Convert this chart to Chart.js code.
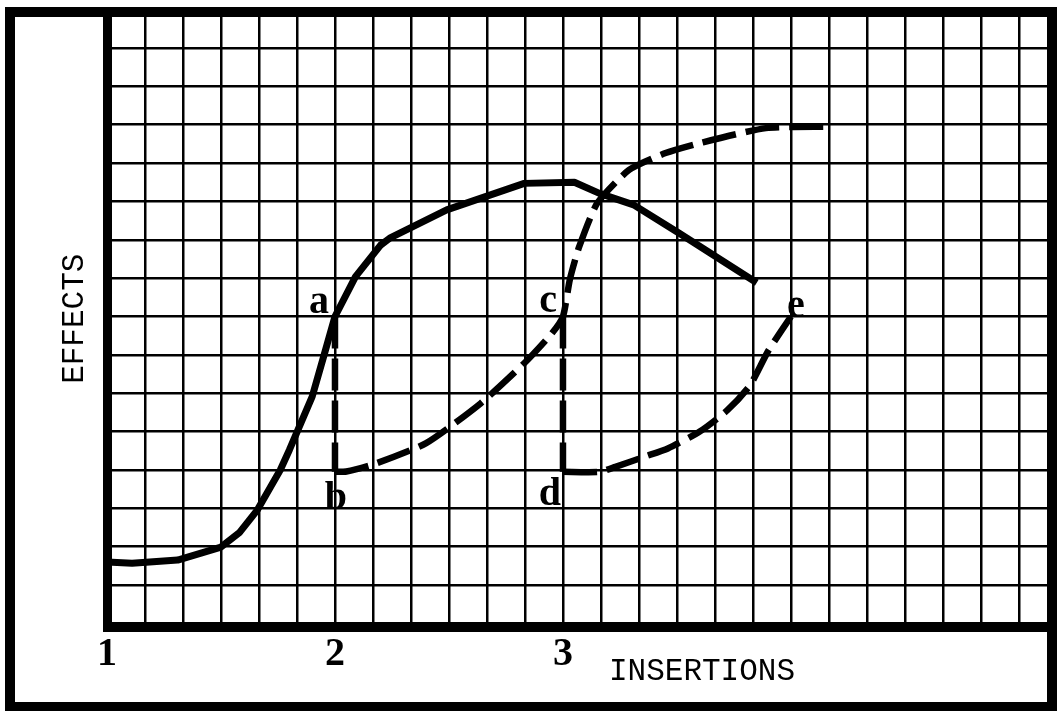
<!DOCTYPE html>
<html>
<head>
<meta charset="utf-8">
<script src="https://cdn.jsdelivr.net/npm/chart.js@4.4.1/dist/chart.umd.min.js"></script>
<style>
html,body{margin:0;padding:0;background:#fff;}
canvas{display:block;}
</style>
</head>
<body>
<canvas id="c" width="1057" height="711"></canvas>
<script>
// ---- data ----
const xTitle = 'INSERTIONS';
const yTitle = 'EFFECTS';
const xTickValues = [1, 2, 3];
const xTickLabels = ['1', '2', '3'];
const xMin = 1, xMax = 5.145, xGridStep = 1 / 6;
const yMin = -0.118, yMax = 16, yGridStep = 1;

// solid response curve
const solidX = [1.00, 1.11, 1.31, 1.50, 1.58, 1.66, 1.76, 1.80, 1.90, 1.95, 2.00, 2.09, 2.20, 2.24, 2.49, 2.83, 3.05, 3.16, 3.31, 3.51, 3.85];
const solidY = [1.60, 1.57, 1.65, 1.99, 2.36, 2.96, 4.00, 4.52, 5.91, 6.95, 8.00, 9.04, 9.86, 10.04, 10.78, 11.47, 11.50, 11.21, 10.91, 10.17, 8.88];

// vertical drops a -> b and c -> d
const dropABX = [2.00, 2.00];
const dropABY = [8.00, 3.95];
const dropCDX = [3.00, 3.00];
const dropCDY = [8.00, 3.95];

// dashed curve b -> c -> top
const dashAX = [2.00, 2.05, 2.18, 2.40, 2.64, 2.83, 2.95, 3.00, 3.03, 3.07, 3.15, 3.29, 3.45, 3.60, 3.89, 4.17];
const dashAY = [3.95, 3.96, 4.17, 4.70, 5.74, 6.78, 7.55, 8.00, 8.96, 9.80, 10.95, 11.82, 12.26, 12.52, 12.91, 12.95];

// dashed curve d -> e
const dashBX = [3.00, 3.16, 3.23, 3.36, 3.46, 3.60, 3.72, 3.82, 3.90, 4.00];
const dashBY = [3.95, 3.95, 4.08, 4.35, 4.56, 5.00, 5.55, 6.20, 7.10, 8.00];

// point letters
const markLabels = ['a', 'b', 'c', 'd', 'e'];
const markX = [2, 2, 3, 3, 4];
const markY = [8, 3.95, 8, 3.95, 8];

// ---- styles ----
const INK = '#000';
const letterStyle = {
  a: {align: 'right', dx: -6, dy: -3},
  b: {align: 'center', dx: 1, dy: 37},
  c: {align: 'right', dx: -6, dy: -4},
  d: {align: 'right', dx: -2, dy: 33},
  e: {align: 'left', dx: -4, dy: 1}
};

const toPts = (xs, ys) => xs.map((x, i) => ({x: x, y: ys[i]}));

const framePlugin = {
  id: 'frame',
  beforeDraw(chart) {
    const c = chart.ctx;
    c.save();
    c.fillStyle = '#fff';
    c.fillRect(0, 0, chart.width, chart.height);
    c.restore();
  },
  afterDraw(chart) {
    const c = chart.ctx;
    const xs = chart.scales.x;
    const area = chart.chartArea;
    c.save();
    // outer frame
    c.strokeStyle = INK;
    c.lineWidth = 10;
    c.strokeRect(10, area.top + 2.4, area.right - 10, chart.height - area.top - 6.4);
    // letters
    c.fillStyle = INK;
    c.font = 'bold 40px "Liberation Serif", "DejaVu Serif", serif';
    c.textBaseline = 'alphabetic';
    markLabels.forEach((t, i) => {
      const st = letterStyle[t];
      c.textAlign = st.align;
      c.fillText(t, xs.getPixelForValue(markX[i]) + st.dx, chart.scales.y.getPixelForValue(markY[i]) + st.dy);
    });
    // x-axis title, placed right of the "3" tick
    c.font = '31px "Liberation Mono", "DejaVu Sans Mono", monospace';
    c.textAlign = 'left';
    c.fillText(xTitle, xs.getPixelForValue(3) + 46, area.bottom + 52);
    c.restore();
  }
};

const lineDs = (label, xs, ys, dash, tension, width) => ({
  label: label,
  data: toPts(xs, ys),
  borderColor: INK,
  borderWidth: width,
  borderDash: dash,
  pointRadius: 0,
  tension: tension,
  borderJoinStyle: 'round',
  borderCapStyle: 'butt',
  fill: false
});

new Chart(document.getElementById('c'), {
  type: 'line',
  data: {
    datasets: [
      lineDs('solid', solidX, solidY, [], 0, 7),
      lineDs('dropAB', dropABX, dropABY, [32, 10], 0, 6.5),
      lineDs('dropCD', dropCDX, dropCDY, [32, 10], 0, 6.5),
      lineDs('dashA', dashAX, dashAY, [34, 10], 0.2, 6.5),
      lineDs('dashB', dashBX, dashBY, [34, 10], 0.2, 6.5)
    ]
  },
  options: {
    responsive: false,
    animation: false,
    devicePixelRatio: 1,
    layout: {padding: {left: 56.4, top: 9.6, right: 5, bottom: 0}},
    plugins: {legend: {display: false}, tooltip: {enabled: false}},
    scales: {
      x: {
        type: 'linear',
        position: 'bottom',
        min: xMin,
        max: xMax,
        afterBuildTicks: (scale) => {
          const t = [];
          for (let k = 0; xMin + k * xGridStep <= xMax + 1e-9; k++) t.push({value: xMin + k * xGridStep});
          scale.ticks = t;
        },
        afterFit: (scale) => { scale.height = 83.1; },
        grid: {
          color: INK,
          lineWidth: (ctx) => (ctx.tick && Math.abs(ctx.tick.value - xMin) < 1e-9) ? 9 : 2.5,
          drawTicks: false
        },
        border: {display: true, color: INK, width: 9},
        ticks: {
          padding: 6.6,
          color: INK,
          maxRotation: 0,
          autoSkip: false,
          font: {family: '"Liberation Serif", "DejaVu Serif", serif', size: 40, weight: 'bold', lineHeight: 1},
          callback: (v) => {
            const i = xTickValues.findIndex(t => Math.abs(t - v) < 1e-6);
            return i >= 0 ? xTickLabels[i] : '';
          }
        }
      },
      y: {
        type: 'linear',
        min: yMin,
        max: yMax,
        afterBuildTicks: (scale) => {
          const t = [];
          for (let v = 0; v <= yMax + 1e-9; v += yGridStep) t.push({value: v});
          scale.ticks = t;
        },
        ticks: {display: false},
        grid: {color: INK, lineWidth: 2.5, drawTicks: false},
        border: {display: false},
        title: {
          display: true,
          text: yTitle,
          color: INK,
          font: {family: '"Liberation Mono", "DejaVu Sans Mono", monospace', size: 31, lineHeight: 1.2},
          padding: {top: 0, bottom: 13.4}
        }
      }
    }
  },
  plugins: [framePlugin]
});
</script>
</body>
</html>
